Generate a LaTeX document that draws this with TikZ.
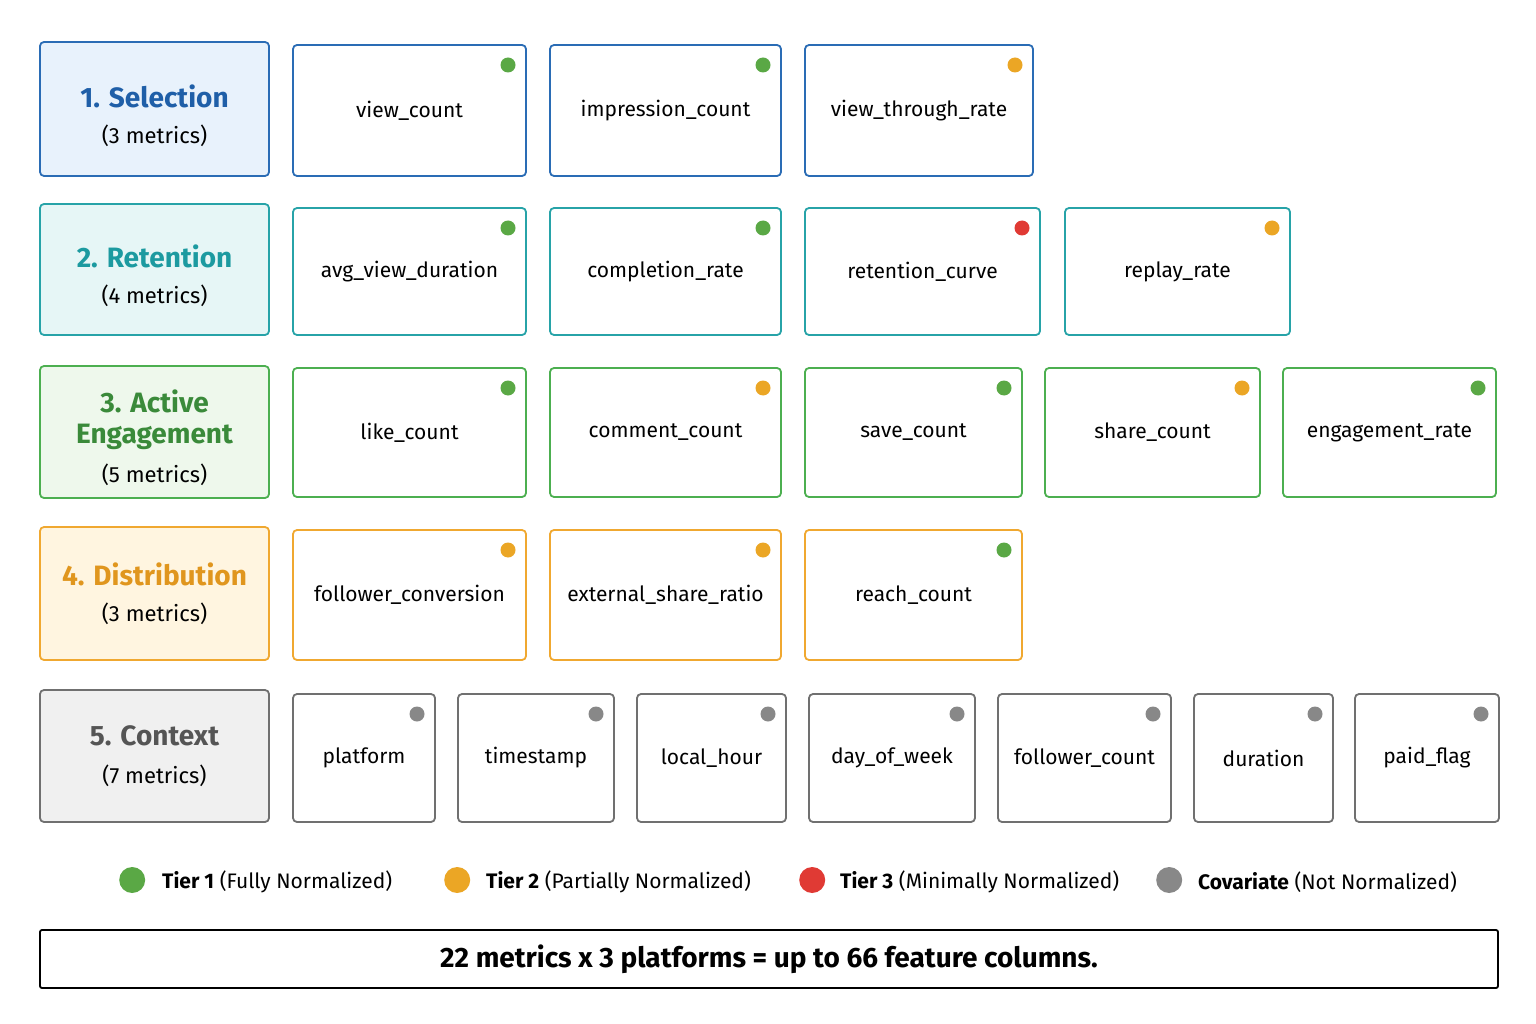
\documentclass[tikz,border=0pt]{standalone}
\usepackage{fontspec}
\setmainfont{Fira Sans}
\definecolor{cb}{HTML}{2A6CB5}\definecolor{fb}{HTML}{E8F2FC}
\definecolor{ct}{HTML}{27A3A8}\definecolor{ft}{HTML}{E6F6F6}
\definecolor{cg}{HTML}{4CAF50}\definecolor{fg}{HTML}{EEF8EC}
\definecolor{co}{HTML}{F0A830}\definecolor{fo}{HTML}{FFF5E0}
\definecolor{cy}{HTML}{707070}\definecolor{fy}{HTML}{F0F0F0}
\definecolor{dg}{HTML}{5AA845}\definecolor{do}{HTML}{EBA625}
\definecolor{dr}{HTML}{E03A34}\definecolor{dy}{HTML}{888888}
\definecolor{tb}{HTML}{1F5FA8}\definecolor{tt}{HTML}{1C9AA0}
\definecolor{tg}{HTML}{3A8A3A}\definecolor{to}{HTML}{E0961E}\definecolor{ty}{HTML}{555555}
\tikzset{box/.style={draw,line width=1.8pt,rounded corners=4pt,inner sep=0pt,align=center},
dotst/.style={circle,inner sep=0pt,minimum size=15pt},
ttl/.style={font=\fontsize{28}{36}\selectfont\bfseries,inner sep=0pt,align=center},
sub/.style={font=\fontsize{22}{26}\selectfont,inner sep=0pt}}
\newcommand{\mycell}[8]{%
 \node[box,draw=#6,minimum width={#4-#2},minimum height={#5-#3},font=\fontsize{21}{26}\selectfont] (#1) at ({(#2+#4)/2},{(#3+#5)/2}) {#7};
 \node[dotst,fill=#8] (#1d) at ({#4-18},{#3+20}) {};}
\newcommand{\mycat}[9]{%
 \node[box,draw=#2,fill=#3,minimum width=229pt,minimum height={#5-#4}] (#1) at (154.5,{(#4+#5)/2}) {};
 \node[ttl,text=#6] (#1t) at (154.5,#8) {#7};
 \node[sub] (#1s) at (154.5,#9) {#9};}
\renewcommand{\mycat}[9]{%
 \node[box,draw=#2,fill=#3,minimum width=229pt,minimum height={#5-#4}] (#1) at (154.5,{(#4+#5)/2}) {};
 \node[ttl,text=#6] (#1t) at (154.5,#8) {#7};
 \node[sub] (#1s) at (154.5,{#8+40}) {#9};}
\begin{document}
\begin{tikzpicture}[x=1pt,y=-1pt]
\useasboundingbox (0,0) rectangle (1536,1024);
\fill[white] (0,0) rectangle (1536,1024);
\mycat{c1}{cb}{fb}{42}{176}{tb}{1. Selection}{96}{(3 metrics)}
\mycat{c2}{ct}{ft}{204}{335}{tt}{2. Retention}{256}{(4 metrics)}
\node[box,draw=cg,fill=fg,minimum width=229pt,minimum height=132pt] (c3) at (154.5,432) {};
\node[ttl,text=tg] (c3t) at (154.5,401) {3. Active};
\node[ttl,text=tg] (c3u) at (154.5,437) {Engagement};
\node[sub] (c3s) at (154.5,475) {(5 metrics)};
\mycat{c4}{co}{fo}{527}{660}{to}{4. Distribution}{574}{(3 metrics)}
\mycat{c5}{cy}{fy}{690}{822}{ty}{5. Context}{736}{(7 metrics)}
\mycell{a1}{293}{45}{526}{176}{cb}{view\_count}{dg}
\mycell{a2}{550}{45}{781}{176}{cb}{impression\_count}{dg}
\mycell{a3}{805}{45}{1033}{176}{cb}{view\_through\_rate}{do}
\mycell{b1}{293}{208}{526}{335}{ct}{avg\_view\_duration}{dg}
\mycell{b2}{550}{208}{781}{335}{ct}{completion\_rate}{dg}
\mycell{b3}{805}{208}{1040}{335}{ct}{retention\_curve}{dr}
\mycell{b4}{1065}{208}{1290}{335}{ct}{replay\_rate}{do}
\mycell{e1}{293}{368}{526}{497}{cg}{like\_count}{dg}
\mycell{e2}{550}{368}{781}{497}{cg}{comment\_count}{do}
\mycell{e3}{805}{368}{1022}{497}{cg}{save\_count}{dg}
\mycell{e4}{1045}{368}{1260}{497}{cg}{share\_count}{do}
\mycell{e5}{1283}{368}{1496}{497}{cg}{engagement\_rate}{dg}
\mycell{f1}{293}{530}{526}{660}{co}{follower\_conversion}{do}
\mycell{f2}{550}{530}{781}{660}{co}{external\_share\_ratio}{do}
\mycell{f3}{805}{530}{1022}{660}{co}{reach\_count}{dg}
\mycell{g1}{293}{694}{435}{822}{cy}{platform}{dy}
\mycell{g2}{458}{694}{614}{822}{cy}{timestamp}{dy}
\mycell{g3}{637}{694}{786}{822}{cy}{local\_hour}{dy}
\mycell{g4}{809}{694}{975}{822}{cy}{day\_of\_week}{dy}
\mycell{g5}{998}{694}{1171}{822}{cy}{follower\_count}{dy}
\mycell{g6}{1194}{694}{1333}{822}{cy}{duration}{dy}
\mycell{g7}{1355}{694}{1499}{822}{cy}{paid\_flag}{dy}
\begin{scope}[every node/.style={font=\fontsize{21}{26}\selectfont,anchor=west,inner sep=0pt}]
\node[dotst,fill=dg,minimum size=26pt] (l1) at (119,880) {};
\node (t1) at (162,882) {\textbf{Tier 1} (Fully Normalized)};
\node[dotst,fill=do,minimum size=26pt] (l2) at (444,880) {};
\node (t2) at (486,882) {\textbf{Tier 2} (Partially Normalized)};
\node[dotst,fill=dr,minimum size=26pt] (l3) at (799,880) {};
\node (t3) at (840,882) {\textbf{Tier 3} (Minimally Normalized)};
\node[dotst,fill=dy,minimum size=26pt] (l4) at (1156,880) {};
\node (t4) at (1198,882) {\textbf{Covariate} (Not Normalized)};
\end{scope}
\node[draw,line width=1.8pt,rounded corners=2pt,minimum width=1458pt,minimum height=58pt,font=\fontsize{28}{32}\selectfont\bfseries] (sum) at (769,959) {22 metrics x 3 platforms = up to 66 feature columns.};
\end{tikzpicture}
\end{document}
